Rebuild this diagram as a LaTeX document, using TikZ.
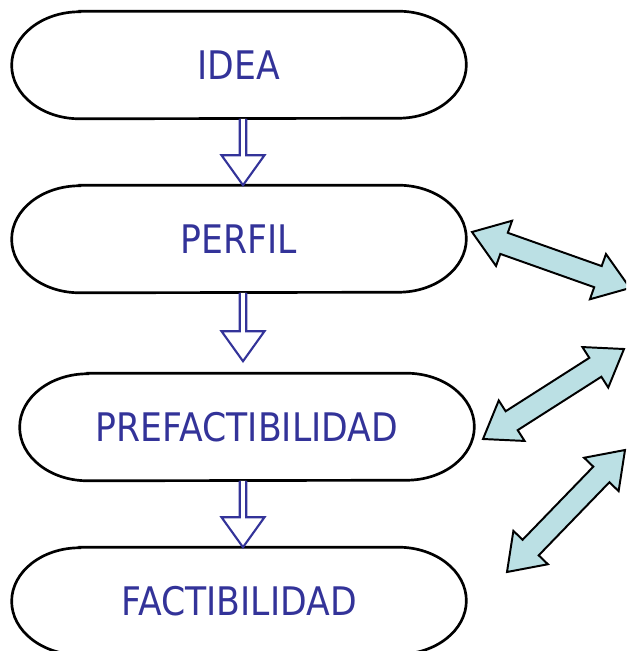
\documentclass[tikz,border=0pt]{standalone}
\usepackage{fontspec}
\setmainfont{DejaVu Sans}[FakeStretch=0.88]
\usepackage{tikz}
\usetikzlibrary{calc}
\definecolor{txtblue}{RGB}{51,51,153}
\definecolor{paleteal}{RGB}{187,224,228}
\tikzset{
 stage/.style={minimum width=11.35cm,minimum height=2.675cm,inner sep=0pt,text=txtblue,font=\fontsize{28}{32}\selectfont},
 capsule/.style={line width=1.9pt},
 hollow/.style={draw=txtblue,line width=1.5pt,fill=white,line join=miter},
 twoway/.style={draw=black,line width=1.4pt,fill=paleteal,line join=miter}
}
\newcommand{\capsuleline}[1]{\draw[capsule] ([xshift=1.7cm]#1.north west) -- ([xshift=-1.7cm]#1.north east) arc[start angle=90,end angle=-90,x radius=1.7cm,y radius=1.3375cm] -- ([xshift=1.7cm]#1.south west) arc[start angle=270,end angle=90,x radius=1.7cm,y radius=1.3375cm] -- cycle;}
\newcommand{\hollowdown}[2]{\draw[hollow] ($(#1)+(-3.3,0)$) -- ($(#2)+(-3.3,-30)$) -- ($(#2)+(-21.5,-30)$) -- (#2) -- ($(#2)+(21.5,-30)$) -- ($(#2)+(3.3,-30)$) -- ($(#1)+(3.3,0)$);}
\newcommand{\twowayarrow}[2]{\path ($(#1)!0.85cm!(#2)$) coordinate (h1) ($(#2)!0.85cm!(#1)$) coordinate (h2);
 \draw[twoway] (#1) -- ($(h1)!0.6cm!90:(#2)$) -- ($(h1)!0.28cm!90:(#2)$) -- ($(h2)!0.28cm!-90:(#1)$) -- ($(h2)!0.6cm!-90:(#1)$) -- (#2) -- ($(h2)!0.6cm!90:(#1)$) -- ($(h2)!0.28cm!90:(#1)$) -- ($(h1)!0.28cm!-90:(#2)$) -- ($(h1)!0.6cm!-90:(#2)$) -- cycle;}
\begin{document}
\begin{tikzpicture}[x=0.025cm,y=-0.025cm]
\useasboundingbox (0,0) rectangle (626,651);
\clip (0,0) rectangle (626,651);
% stages
\node[stage] (idea) at (239,65) {IDEA};
\node[stage] (perfil) at (239,239) {PERFIL};
\node[stage] (prefact) at (247,427) {PREFACTIBILIDAD};
\node[stage] (fact) at (239,601) {FACTIBILIDAD};
\foreach \n in {idea,perfil,prefact,fact}{\capsuleline{\n}}
% hollow arrows
\coordinate (ax) at (243,0);
\foreach \a/\b/\t in {idea/perfil/0,perfil/prefact/12,prefact/fact/0}{
 \coordinate (s) at (\a.south -| ax);
 \coordinate (t) at ($(\b.north -| ax)+(0,-\t)$);
 \hollowdown{s}{t}
}
% two-way arrows
\coordinate (pa) at (472,232); \coordinate (pb) at (630,288);
\coordinate (qa) at (483,439); \coordinate (qb) at (624,349);
\coordinate (ra) at (507,572); \coordinate (rb) at (625,450);
\twowayarrow{pa}{pb}
\twowayarrow{qa}{qb}
\twowayarrow{ra}{rb}
\end{tikzpicture}
\end{document}
